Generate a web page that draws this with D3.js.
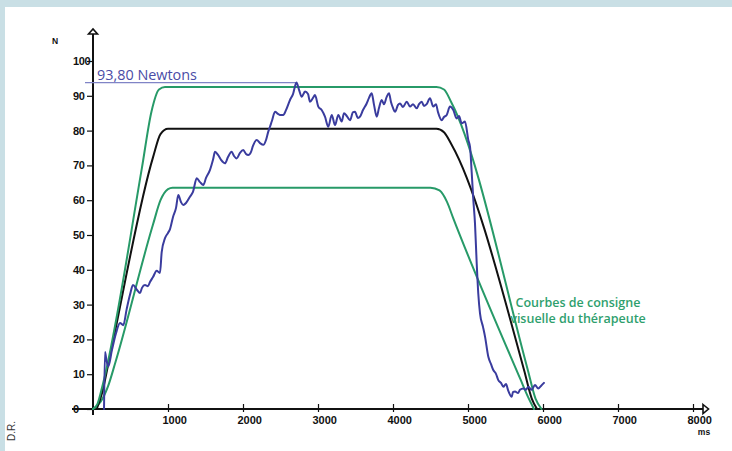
<!DOCTYPE html>
<html>
<head>
<meta charset="utf-8">
<script src="https://cdn.jsdelivr.net/npm/d3@7"></script>
<style>
  html, body { margin: 0; padding: 0; background: #c9dfe5; }
  svg { display: block; }
</style>
</head>
<body>
<svg id="chart" width="732" height="451"></svg>
<script>
// Axis ticks
const xTicks = [1000, 2000, 3000, 4000, 5000, 6000, 7000, 8000];
const yTicks = [0, 10, 20, 30, 40, 50, 60, 70, 80, 90, 100];

// Peak force (N) and when it happened (ms)
const peakForce = 93.8;
const peakTime = 2713;
const peakLabel = "93,80 Newtons";

// Therapist's visual target curves: [time ms, force N]
const upperTarget = [[0,0],[60,1.5],[130,7],[650,69],[780,85.5],[880,91.8],[960,92.5],
  [4580,92.5],[4680,91.8],[4780,88],[5800,11],[5900,3],[5980,0]];
const middleTarget = [[50,0],[120,4.5],[200,12.5],[800,72.3],[900,79],[1000,80.5],
  [4580,80.5],[4680,79.5],[4780,76],[5750,11],[5850,3],[5920,0]];
const lowerTarget = [[0,0],[100,2],[200,6.5],[300,13.5],[800,53],[900,60],[1000,63.2],[1060,63.6],
  [4500,63.6],[4620,62.8],[4720,59.5],[4800,55],[5700,8.5],[5800,3.5],[5880,0]];

// Patient's measured force: [time ms, force N]
const measured = [
  [147,0],[160,16.4],[180,14],[204,12.2],[253,17],[307,21.8],[360,24.7],[404,24.1],[449,28.7],
  [493,32.8],[533,35.6],[587,34.2],[627,33.3],[653,34.8],[693,35.6],[733,35.3],[760,36.5],
  [800,37.9],[849,39.7],[893,39.1],[916,45.1],[960,49.1],[1000,50.6],[1027,51.7],[1067,55.2],
  [1107,57.8],[1137,61.5],[1173,59.5],[1204,58.6],[1240,59.2],[1293,61],[1333,62.4],[1383,66.3],
  [1427,65.2],[1471,64.4],[1507,66.4],[1560,68.7],[1600,71.6],[1627,73.9],[1667,73],[1707,71.6],
  [1760,70.6],[1800,72.4],[1849,73.9],[1880,72.7],[1916,72],[1960,73.6],[2004,74.4],[2040,73.3],
  [2071,73],[2107,73.9],[2133,75.6],[2183,77.3],[2227,76.4],[2271,75.9],[2307,77.3],[2337,79.7],
  [2360,81.1],[2383,82.6],[2427,85.4],[2467,84.8],[2493,84.5],[2537,84.5],[2573,85.9],[2627,88.8],
  [2667,90.5],[2713,93.8],[2747,91.7],[2783,89.7],[2827,91.2],[2867,90.5],[2893,88.3],[2933,89.4],
  [2960,90.2],[3004,86.9],[3049,85.9],[3093,84],[3137,81.1],[3183,84.5],[3227,81.6],[3271,84.5],
  [3316,82.6],[3347,85],[3383,84.2],[3427,83],[3467,85.3],[3493,85.4],[3533,83.6],[3560,84],
  [3600,85.9],[3649,87.8],[3680,89.4],[3716,90.7],[3747,87.4],[3783,84],[3813,86.5],[3849,88.8],
  [3880,87.6],[3916,89.7],[3947,90.7],[3973,88.2],[4000,86.5],[4027,85.4],[4067,87.4],[4093,87.8],
  [4133,86.8],[4183,88.3],[4227,86.9],[4267,87.6],[4316,86.4],[4347,87.6],[4383,88.3],[4413,87.1],
  [4449,87.6],[4493,89.3],[4537,86.9],[4573,87.6],[4600,85.3],[4649,83],[4680,83.9],[4716,84.5],
  [4760,86.9],[4804,85.9],[4849,83.5],[4880,84.2],[4916,82.1],[4960,82.6],[5004,77.3],[5027,75.3],
  [5049,68.1],[5071,60.1],[5093,53.4],[5116,41.9],[5137,33.2],[5160,27.5],[5200,23.6],[5227,20.8],
  [5271,15],[5307,12.9],[5337,11.2],[5373,10.1],[5404,8.3],[5440,7.5],[5471,6.4],[5507,7.2],
  [5533,5.5],[5583,3.5],[5600,4.9],[5627,5],[5667,4.6],[5693,5.5],[5737,5.9],[5773,5.5],
  [5804,6.4],[5849,5.5],[5893,6.9],[5937,5.9],[5973,6.6],[6013,7.5]
];

const noteLines = ["Courbes de consigne", "visuelle du thérapeute"];

const svg = d3.select("#chart");
const W = 732, H = 451;

// framed white panel
svg.append("rect").attr("width", W).attr("height", H).attr("fill", "#c9dfe5");
svg.append("rect").attr("x", 5).attr("y", 7).attr("width", W - 5).attr("height", H - 7).attr("fill", "#ffffff");

const x = d3.scaleLinear().domain([0, 8000]).range([93, 693]);
const y = d3.scaleLinear().domain([0, 100]).range([409, 61]);

const AXIS_FONT = "'Liberation Sans', Arial, sans-serif";

// y axis
const yAxis = d3.axisLeft(y).tickValues(yTicks).tickSize(6).tickSizeOuter(0).tickFormat(d3.format("d"));
const gy = svg.append("g").attr("transform", `translate(${x(0)},0)`).call(yAxis);
gy.select(".domain").remove();
gy.selectAll(".tick line").attr("stroke", "#111").attr("stroke-width", 1.2);
gy.selectAll(".tick text")
  .attr("x", -20).attr("text-anchor", "start")
  .attr("font-family", AXIS_FONT).attr("font-weight", "bold").attr("font-size", 11)
  .attr("letter-spacing", -0.4).attr("fill", "#111");

// x axis
const xAxis = d3.axisBottom(x).tickValues(xTicks).tickSize(4).tickSizeOuter(0).tickFormat(d3.format("d"));
const gx = svg.append("g").attr("transform", `translate(0,${y(0)})`).call(xAxis);
gx.select(".domain").remove();
gx.selectAll(".tick line").attr("y1", -5).attr("y2", 3).attr("stroke", "#111").attr("stroke-width", 1.2);
gx.selectAll(".tick text")
  .attr("x", -6).attr("y", 15).attr("dy", null).attr("text-anchor", "start")
  .attr("font-family", AXIS_FONT).attr("font-weight", "bold").attr("font-size", 11)
  .attr("fill", "#111");

// axis lines with open arrowheads
const x0 = x(0), y0 = y(0);
svg.append("line").attr("x1", x0).attr("x2", x0).attr("y1", y0 + 6).attr("y2", 31)
  .attr("stroke", "#111").attr("stroke-width", 2);
svg.append("line").attr("x1", x0 - 21).attr("x2", 705).attr("y1", y0).attr("y2", y0)
  .attr("stroke", "#111").attr("stroke-width", 2);
svg.append("path").attr("d", `M${x0 - 4.5},34 L${x0},29 L${x0 + 4.5},34 Z`)
  .attr("fill", "#fff").attr("stroke", "#111").attr("stroke-width", 1.6);
svg.append("path").attr("d", `M703,${y0 - 4.5} L708.5,${y0} L703,${y0 + 4.5} Z`)
  .attr("fill", "#fff").attr("stroke", "#111").attr("stroke-width", 1.6);

// axis units
svg.append("text").attr("x", 55).attr("y", 43.5).attr("text-anchor", "middle")
  .attr("font-family", AXIS_FONT).attr("font-weight", "bold").attr("font-size", 8.5)
  .attr("fill", "#111").text("N");
svg.append("text").attr("x", 704).attr("y", 435).attr("text-anchor", "middle")
  .attr("font-family", AXIS_FONT).attr("font-weight", "bold").attr("font-size", 8.5)
  .attr("fill", "#111").text("ms");

// peak marker line and label
svg.append("line").attr("x1", x0 - 8).attr("x2", x(peakTime))
  .attr("y1", y(peakForce)).attr("y2", y(peakForce))
  .attr("stroke", "#8084c6").attr("stroke-width", 1.2);
svg.append("text").attr("x", x0 + 4).attr("y", 79.5)
  .attr("font-family", "'Open Sans', sans-serif").attr("font-size", 14.4)
  .attr("fill", "#4a4ca6").text(peakLabel);

// curves
const line = d3.line().x(d => x(d[0])).y(d => y(d[1])).curve(d3.curveMonotoneX);
const drawCurve = (data, color, width) =>
  svg.append("path").datum(data).attr("d", line)
    .attr("fill", "none").attr("stroke", color).attr("stroke-width", width)
    .attr("stroke-linejoin", "round").attr("stroke-linecap", "round");

drawCurve(lowerTarget, "#279a68", 2);
drawCurve(middleTarget, "#111111", 2);
drawCurve(upperTarget, "#279a68", 2);
drawCurve(measured, "#3a3c9e", 2);

// note for the target curves
const note = svg.append("text").attr("text-anchor", "middle")
  .attr("font-family", "'Open Sans', sans-serif").attr("font-weight", 600).attr("font-size", 12.5)
  .attr("fill", "#2f9f6e");
noteLines.forEach((t, i) => note.append("tspan").attr("x", 578).attr("y", 306.5 + i * 16.5).text(t));

// photo credit
svg.append("text").attr("transform", "translate(15,431) rotate(-90)").attr("text-anchor", "middle")
  .attr("font-family", AXIS_FONT).attr("font-size", 10).attr("fill", "#333").text("D.R.");
</script>
</body>
</html>
